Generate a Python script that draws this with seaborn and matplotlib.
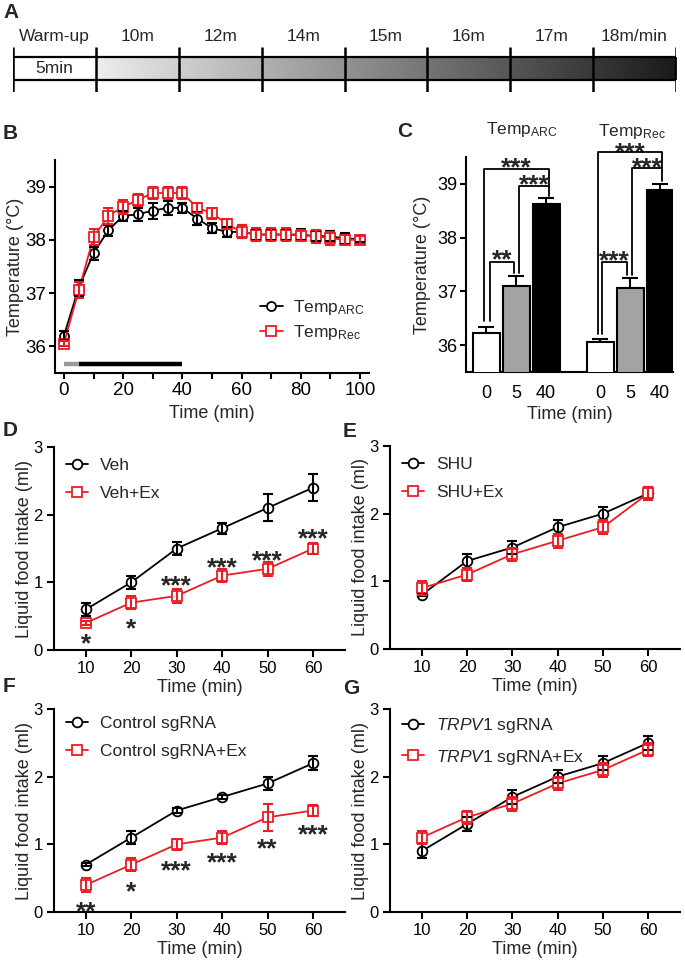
import numpy as np
import matplotlib
matplotlib.use('Agg')
import matplotlib.pyplot as plt
import seaborn as sns
from matplotlib.colors import LinearSegmentedColormap
from matplotlib.patches import Rectangle
from matplotlib.ticker import MultipleLocator

# ---------------- data ----------------
stage_labels = ['Warm-up', '10m', '12m', '14m', '15m', '16m', '17m', '18m/min']
warmup_text = '5min'

b_time = [0, 5, 10, 15, 20, 25, 30, 35, 40, 45, 50, 55, 60, 65, 70, 75, 80, 85, 90, 95, 100]
b_arc = [36.2, 37.1, 37.75, 38.18, 38.45, 38.48, 38.55, 38.6, 38.6, 38.4, 38.22, 38.15,
         38.15, 38.1, 38.1, 38.1, 38.1, 38.07, 38.07, 38.02, 38.02]
b_arc_err = [0.08, 0.15, 0.12, 0.1, 0.1, 0.12, 0.15, 0.13, 0.1, 0.12, 0.1, 0.1,
             0.12, 0.1, 0.1, 0.1, 0.1, 0.1, 0.1, 0.1, 0.06]
b_rec = [36.05, 37.05, 38.05, 38.45, 38.62, 38.75, 38.88, 38.88, 38.88, 38.6, 38.5, 38.3,
         38.15, 38.1, 38.1, 38.1, 38.08, 38.07, 38.03, 38.0, 38.0]
b_rec_err = [0.05, 0.15, 0.15, 0.15, 0.13, 0.12, 0.12, 0.12, 0.12, 0.1, 0.1, 0.1,
             0.12, 0.12, 0.12, 0.12, 0.1, 0.12, 0.12, 0.1, 0.08]
b_labels = [r'Temp$_{\mathregular{ARC}}$', r'Temp$_{\mathregular{Rec}}$']
b_warm_span = [0, 5]
b_run_span = [5, 40]

c_titles = [r'Temp$_{\mathregular{ARC}}$', r'Temp$_{\mathregular{Rec}}$']
c_time_labels = ['0', '5', '40']
c_arc = [36.23, 37.1, 38.63]
c_arc_err = [0.11, 0.19, 0.11]
c_rec = [36.06, 37.06, 38.88]
c_rec_err = [0.06, 0.18, 0.12]
c_sig_labels = ['**', '***', '***', '***', '***', '***']
c_sig_pairs = [(0, 1), (1, 2), (0, 2), (3, 4), (4, 5), (3, 5)]
c_sig_top = [37.55, 38.96, 39.28, 37.54, 39.3, 39.6]
c_sig_left_base = [36.45, 37.35, 36.45, 36.2, 37.3, 36.2]
c_sig_right_base = [37.35, 38.78, 38.96, 37.3, 39.05, 39.3]
c_sig_star_y = [37.72, 39.12, 39.43, 37.7, 39.43, 39.72]

intake_time = [10, 20, 30, 40, 50, 60]

d_labels = ['Veh', 'Veh+Ex']
d_ctrl = [0.6, 1.0, 1.5, 1.8, 2.1, 2.4]
d_ctrl_err = [0.1, 0.1, 0.1, 0.08, 0.2, 0.2]
d_ex = [0.4, 0.7, 0.8, 1.1, 1.2, 1.5]
d_ex_err = [0.03, 0.1, 0.1, 0.1, 0.1, 0.08]
d_stars = ['*', '*', '***', '***', '***', '***']
d_star_y = [0.2, 0.43, 1.06, 1.33, 1.43, 1.76]

e_labels = ['SHU', 'SHU+Ex']
e_ctrl = [0.8, 1.3, 1.5, 1.8, 2.0, 2.3]
e_ctrl_err = [0.02, 0.1, 0.1, 0.1, 0.1, 0.1]
e_ex = [0.9, 1.1, 1.4, 1.6, 1.8, 2.3]
e_ex_err = [0.1, 0.1, 0.1, 0.1, 0.1, 0.1]

f_labels = ['Control sgRNA', 'Control sgRNA+Ex']
f_ctrl = [0.7, 1.1, 1.5, 1.7, 1.9, 2.2]
f_ctrl_err = [0.02, 0.1, 0.03, 0.03, 0.1, 0.1]
f_ex = [0.4, 0.7, 1.0, 1.1, 1.4, 1.5]
f_ex_err = [0.1, 0.1, 0.08, 0.1, 0.2, 0.08]
f_stars = ['**', '*', '***', '***', '**', '***']
f_star_y = [0.12, 0.41, 0.72, 0.84, 1.04, 1.25]

g_labels = [r'$\mathit{TRPV1}$ sgRNA', r'$\mathit{TRPV1}$ sgRNA+Ex']
g_ctrl = [0.9, 1.3, 1.7, 2.0, 2.2, 2.5]
g_ctrl_err = [0.1, 0.1, 0.1, 0.1, 0.1, 0.1]
g_ex = [1.1, 1.4, 1.6, 1.9, 2.1, 2.4]
g_ex_err = [0.1, 0.1, 0.1, 0.1, 0.1, 0.1]

# ---------------- style ----------------
sns.set_theme(style='ticks')
plt.rcParams['font.family'] = ['Liberation Sans', 'DejaVu Sans']
plt.rcParams['mathtext.fontset'] = 'custom'
plt.rcParams['mathtext.rm'] = 'Liberation Sans'
plt.rcParams['mathtext.it'] = 'Liberation Sans:italic'
plt.rcParams['mathtext.bf'] = 'Liberation Sans:bold'
plt.rcParams['axes.linewidth'] = 1.5

RED = '#ec1c24'
BLACK = '#000000'
GRAY = '#a3a3a6'

W, H = 685, 960
fig = plt.figure(figsize=(W / 100, H / 100), dpi=100)


def px_rect(l, t, r, b):
    return [l / W, 1 - b / H, (r - l) / W, (b - t) / H]


def style_axes(ax, tick_fs, length=5, pad=3):
    sns.despine(ax=ax)
    ax.tick_params(axis='both', which='both', direction='out', length=length, width=1.5,
                   labelsize=tick_fs, color='black', labelcolor='black', pad=pad)
    for s in ['left', 'bottom']:
        ax.spines[s].set_linewidth(1.5)
        ax.spines[s].set_color('black')
    ax.set_facecolor('white')


def stars(ax, x, y, s, fs=19):
    ax.annotate(s, xy=(x, y), xytext=(0, -0.57 * fs), textcoords='offset points',
                ha='center', va='baseline', fontsize=fs, fontweight='bold',
                annotation_clip=False)


def series(ax, x, y, err, color, marker, label, ms, cap):
    sns.lineplot(x=x, y=y, ax=ax, color=color, marker=marker, markersize=ms,
                 markerfacecolor='white', markeredgecolor=color, markeredgewidth=1.3,
                 linewidth=1.3, label=label, errorbar=None, zorder=2)
    ax.errorbar(x, y, yerr=err, fmt='none', ecolor=color, elinewidth=1.5,
                capsize=cap, capthick=1.5, zorder=3, label='_nolegend_')


# ---------------- panel A ----------------
axA = fig.add_axes(px_rect(13, 47, 676, 92))
axA.set_xlim(0, len(stage_labels))
axA.set_ylim(0, 1)
axA.axis('off')
y0, y1 = 0.267, 0.778
grad_cmap = LinearSegmentedColormap.from_list('g', ['#ededed', '#1a1a1a'])
axA.imshow(np.linspace(0, 1, 256)[None, :], extent=[1, len(stage_labels), y0, y1],
           cmap=grad_cmap, aspect='auto', zorder=1)
axA.add_patch(Rectangle((0, y0), 1, y1 - y0, facecolor='white', edgecolor='none', zorder=1))
axA.add_patch(Rectangle((0, y0), len(stage_labels), y1 - y0, facecolor='none',
                        edgecolor='black', linewidth=1.6, zorder=3))
axA.vlines(np.arange(len(stage_labels) + 1), 0, 1, color='black', linewidth=1.8, zorder=3)
for i, lab in enumerate(stage_labels):
    axA.text(i + 0.5, 1.24, lab, ha='center', va='center', fontsize=12.5, clip_on=False)
axA.text(0.5, 0.53, warmup_text, ha='center', va='center', fontsize=12.5, zorder=4)

# ---------------- panel B ----------------
axB = fig.add_axes(px_rect(55, 160, 369, 373))
series(axB, b_time, b_arc, b_arc_err, BLACK, 'o', b_labels[0], 6.5, 3.5)
series(axB, b_time, b_rec, b_rec_err, RED, 's', b_labels[1], 6.5, 3.5)
bar_y = 35.66
axB.plot(b_warm_span, [bar_y, bar_y], color='#9a9a9a', linewidth=3.2, solid_capstyle='butt')
axB.plot(b_run_span, [bar_y, bar_y], color='black', linewidth=3.2, solid_capstyle='butt')
axB.set_xlim(-3, 103)
axB.set_ylim(35.5, 39.5)
axB.xaxis.set_major_locator(MultipleLocator(20))
axB.xaxis.set_minor_locator(MultipleLocator(10))
axB.set_yticks([36, 37, 38, 39])
style_axes(axB, 13.5, length=4.5, pad=2)
axB.set_xlabel('Time (min)', fontsize=13)
axB.set_ylabel('Temperature (°C)', fontsize=13)
axB.yaxis.set_label_coords(-0.1, 0.5)
axB.legend(loc='upper left', bbox_to_anchor=(0.653, 0.352), frameon=False, fontsize=12.5,
           handlelength=1.3, handletextpad=0.6, labelspacing=0.35, borderpad=0,
           borderaxespad=0)

# ---------------- panel C ----------------
axC = fig.add_axes(px_rect(466, 157, 673, 372))
bar_pos = [0, 1, 2, 3.8, 4.8, 5.8]
bar_vals = c_arc + c_rec
bar_err = c_arc_err + c_rec_err
bar_hue = c_time_labels + c_time_labels
sns.barplot(x=bar_pos, y=bar_vals, hue=bar_hue, ax=axC, native_scale=True, dodge=False,
            palette={'0': 'white', '5': GRAY, '40': 'black'}, width=0.9,
            edgecolor='black', linewidth=1.5, errorbar=None, legend=False, zorder=3)
axC.errorbar(bar_pos, bar_vals, yerr=[np.zeros(len(bar_err)), bar_err], fmt='none',
             ecolor='black', elinewidth=1.5, capsize=6, capthick=1.5, zorder=2)
left_off = [0.13, 0.1, -0.07, 0.07, 0.07, -0.07]
right_off = [-0.07, 0.1, 0.1, -0.1, 0.07, 0.07]
for k, (i, j) in enumerate(c_sig_pairs):
    xl = bar_pos[i] + left_off[k]
    xr = bar_pos[j] + right_off[k]
    axC.plot([xl, xl, xr, xr], [c_sig_left_base[k], c_sig_top[k], c_sig_top[k], c_sig_right_base[k]],
             color='black', linewidth=1.3, clip_on=False, zorder=4)
    stars(axC, (xl + xr) / 2, c_sig_star_y[k], c_sig_labels[k])
axC.text(1.2, 39.93, c_titles[0], ha='center', va='baseline', fontsize=12.5, clip_on=False)
axC.text(4.87, 39.89, c_titles[1], ha='center', va='baseline', fontsize=12.5, clip_on=False)
axC.set_xlim(-0.67, 6.23)
axC.set_ylim(35.5, 39.5)
axC.set_yticks([36, 37, 38, 39])
axC.set_xticks(bar_pos)
axC.set_xticklabels(bar_hue)
style_axes(axC, 13, length=4.5, pad=2)
axC.tick_params(axis='x', length=0, pad=9)
axC.set_xlabel('Time (min)', fontsize=13, labelpad=3)
axC.set_ylabel('Temperature (°C)', fontsize=13)
axC.yaxis.set_label_coords(-0.17, 0.5)

# ---------------- panels D-G ----------------
panels = [
    (px_rect(54, 447, 345, 650), d_labels, d_ctrl, d_ctrl_err, d_ex, d_ex_err, d_stars, d_star_y, 0.946),
    (px_rect(390, 446, 680, 649), e_labels, e_ctrl, e_ctrl_err, e_ex, e_ex_err, None, None, 0.946),
    (px_rect(54, 709, 345, 912), f_labels, f_ctrl, f_ctrl_err, f_ex, f_ex_err, f_stars, f_star_y, 0.966),
    (px_rect(390, 709, 680, 912), g_labels, g_ctrl, g_ctrl_err, g_ex, g_ex_err, None, None, 0.966),
]
for rect, labs, yc, ec, yx, ex, st, sy, leg_y in panels:
    ax = fig.add_axes(rect)
    series(ax, intake_time, yc, ec, BLACK, 'o', labs[0], 7, 3.3)
    series(ax, intake_time, yx, ex, RED, 's', labs[1], 7, 3.3)
    if st is not None:
        for xx, yy, ss in zip(intake_time, sy, st):
            stars(ax, xx, yy, ss)
    ax.set_xlim(3, 67)
    ax.set_ylim(0, 3)
    ax.set_xticks(intake_time)
    ax.set_yticks([0, 1, 2, 3])
    style_axes(ax, 12)
    ax.set_xlabel('Time (min)', fontsize=13, labelpad=2)
    ax.set_ylabel('Liquid food intake (ml)', fontsize=13)
    ax.yaxis.set_label_coords(-0.072, 0.5)
    ax.legend(loc='upper left', bbox_to_anchor=(0.04, leg_y), frameon=False, fontsize=12.5,
              handlelength=1.3, handletextpad=0.7, labelspacing=0.73, borderpad=0,
              borderaxespad=0)

# ---------------- panel letters ----------------
for lab, x, y in [('A', 3, 3), ('B', 3, 124), ('C', 397, 122), ('D', 3, 421),
                  ('E', 343, 422), ('F', 3, 677), ('G', 343, 679)]:
    fig.text(x / W, 1 - y / H, lab, fontsize=15, fontweight='bold', ha='left', va='top')

fig.savefig('out.png', dpi=100, facecolor='white')
